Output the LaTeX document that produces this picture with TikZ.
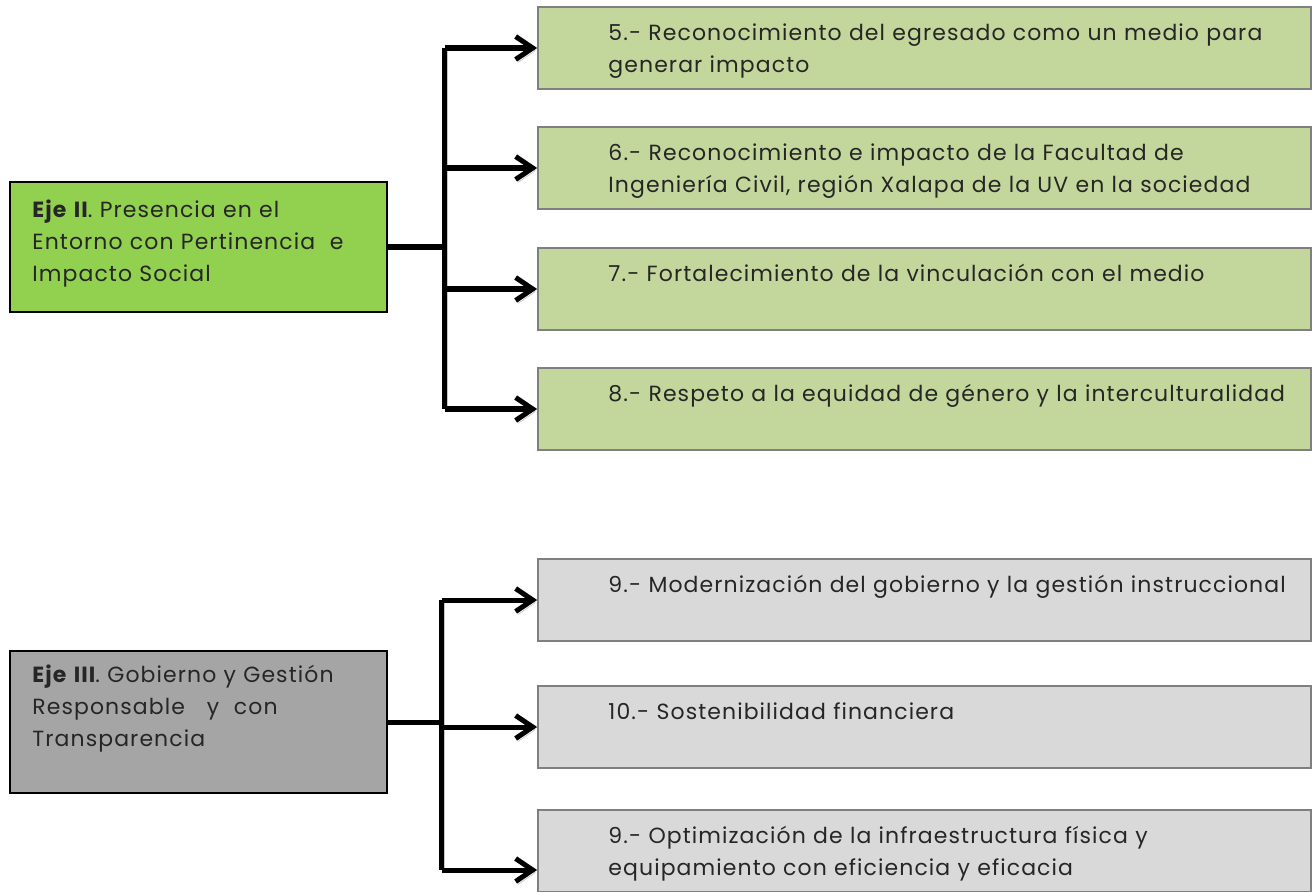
\documentclass[tikz,border=0pt]{standalone}
\usepackage{fontspec}
\setmainfont{Poppins}[LetterSpace=5]
\usepackage{tikz}
\usetikzlibrary{arrows.meta}
\usetikzlibrary{calc}
\definecolor{ejeGreen}{HTML}{92D050}
\definecolor{ejeGray}{HTML}{A5A5A5}
\definecolor{metaGreen}{HTML}{C3D69B}
\definecolor{metaGray}{HTML}{D9D9D9}
\definecolor{metaLine}{HTML}{7F7F7F}
\tikzstyle{chart}=[x=0.02cm, y=-0.02cm, font=\fontsize{12.5}{18.2}\selectfont]
\tikzstyle{eje}=[rectangle, inner sep=0pt, draw=black, line width=1.1pt, minimum width=7.54cm]
\tikzstyle{meta}=[rectangle, inner sep=0pt, draw=metaLine, line width=1.1pt, minimum width=15.46cm, minimum height=1.64cm]
\tikzstyle{txt}=[inner sep=0pt, align=left, anchor=base west, text=black!85]
\tikzstyle{pipe}=[-, line width=2.85pt, preaction={draw=black!22, transform canvas={xshift=1.4pt, yshift=-1.6pt}}]
\tikzstyle{edge}=[pipe, -{Straight Barb[length=3.4mm, width=4.6mm]}]
\newcommand{\metaX}{924.5}
\newcommand{\txtX}{71}
\newcommand{\txtY}{34}
\begin{document}
\begin{tikzpicture}[chart]
	\useasboundingbox (0,0) rectangle (1312,892);

	\node[eje, fill=ejeGreen, minimum height=2.6cm] (e2) at (198.5,247) {};
	\node[txt, text width=7.2cm] (t2) at ($(e2.north west)+(23,36)$) {\textbf{Eje II}. Presencia en el\\Entorno con Pertinencia~ e\\Impacto Social};

	\draw (\metaX,48) node[meta, fill=metaGreen] (b5) {};
	\draw (\metaX,168) node[meta, fill=metaGreen] (b6) {};
	\draw (\metaX,289) node[meta, fill=metaGreen] (b7) {};
	\draw (\metaX,409) node[meta, fill=metaGreen] (b8) {};
	\node[txt, text width=14cm] (t5) at ($(b5.north west)+(\txtX,\txtY)$) {5.- Reconocimiento del egresado como un medio para\\generar impacto};
	\node[txt, text width=14cm] (t6) at ($(b6.north west)+(\txtX,\txtY)$) {6.- Reconocimiento e impacto de la Facultad de\\Ingeniería Civil, región Xalapa de la UV en la sociedad};
	\node[txt, text width=14cm] (t7) at ($(b7.north west)+(\txtX,\txtY)$) {7.- Fortalecimiento de la vinculación con el medio};
	\node[txt, text width=14cm] (t8) at ($(b8.north west)+(\txtX,\txtY)$) {8.- Respeto a la equidad de género y la interculturalidad};

	%The first fork
	\coordinate (j2) at ($(e2.east)+(57,0)$);
	\draw[pipe] (e2.east) -- (j2);
	\draw[pipe] (j2 |- b5.west) -- (j2 |- b8.west);
	\foreach \b in {b5,b6,b7,b8}
		\draw[edge] (j2 |- \b.west) -- (\b.west);

	\node[eje, fill=ejeGray, minimum height=2.84cm] (e3) at (198.5,722) {};
	\node[txt, text width=7.2cm] (t3) at ($(e3.north west)+(23,32)$) {\textbf{Eje III}. Gobierno y Gestión\\Responsable~~ y~ con\\Transparencia};

	\draw (\metaX,600) node[meta, fill=metaGray] (b9) {};
	\draw (\metaX,727) node[meta, fill=metaGray] (b10) {};
	\draw (\metaX,851) node[meta, fill=metaGray] (b11) {};
	\node[txt, text width=14cm] (t9) at ($(b9.north west)+(\txtX,\txtY)$) {9.- Modernización del gobierno y la gestión instruccional};
	\node[txt, text width=14cm] (t10) at ($(b10.north west)+(\txtX,\txtY)$) {10.- Sostenibilidad financiera};
	\node[txt, text width=14cm] (t11) at ($(b11.north west)+(\txtX,\txtY)$) {9.- Optimización de la infraestructura física y\\equipamiento con eficiencia y eficacia};

	%The second fork
	\coordinate (j3) at ($(e3.east)+(54,0)$);
	\coordinate (a11) at ($(b11.west)+(0,19)$);
	\draw[pipe] (e3.east) -- (j3);
	\draw[pipe] (j3 |- b9.west) -- (j3 |- a11);
	\foreach \b in {b9,b10,a11}
		\draw[edge] (j3 |- \b) -- (\b);
\end{tikzpicture}
\end{document}
